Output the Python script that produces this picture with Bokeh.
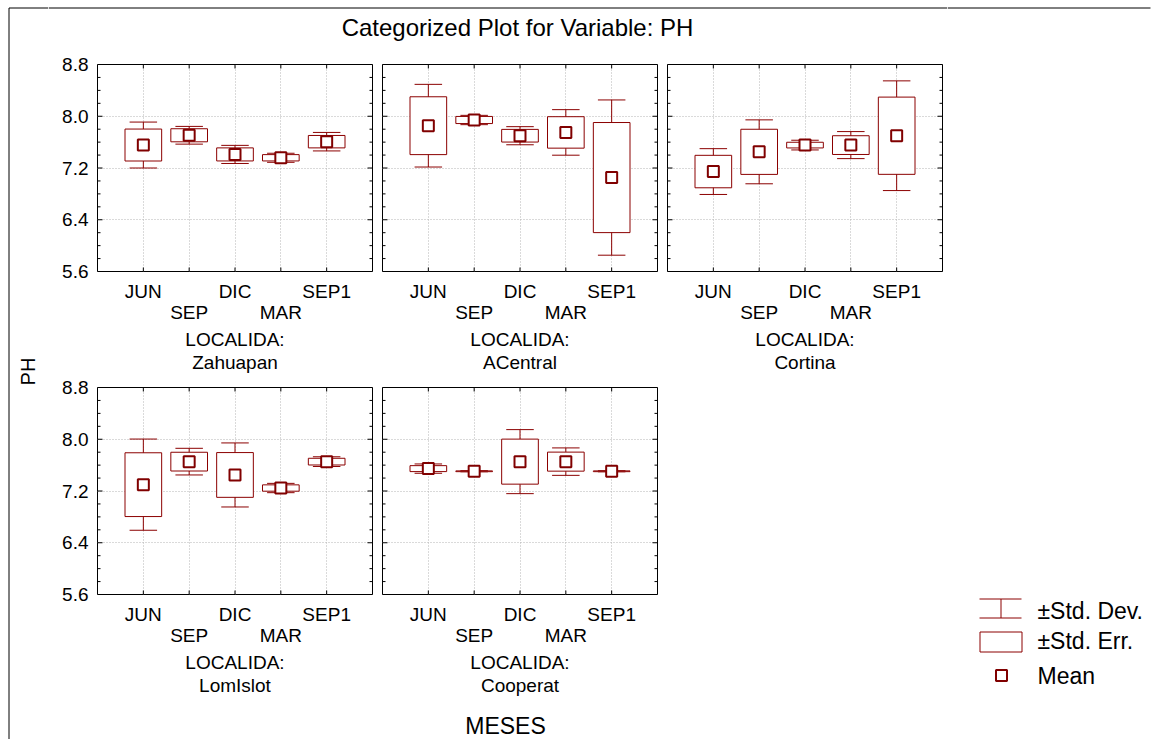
import numpy as np
from bokeh.plotting import figure
from bokeh.models import Range1d, LinearAxis, FixedTicker, Grid, PrintfTickFormatter, ColumnDataSource, Span
from bokeh.layouts import row, column
from bokeh.core.properties import value
from bokeh.embed import file_html
from bokeh.resources import INLINE

# ---------------- data ----------------
months = ["JUN", "SEP", "DIC", "MAR", "SEP1"]
localities = ["Zahuapan", "ACentral", "Cortina", "LomIslot", "Cooperat"]
y_ticks = [5.6, 6.4, 7.2, 8.0, 8.8]

zahuapan_mean = [7.555, 7.706, 7.410, 7.358, 7.607]
zahuapan_se = [0.247, 0.101, 0.101, 0.049, 0.096]
zahuapan_sd = [0.355, 0.137, 0.140, 0.070, 0.143]

acentral_mean = [7.854, 7.942, 7.699, 7.750, 7.052]
acentral_se = [0.447, 0.055, 0.098, 0.243, 0.851]
acentral_sd = [0.639, 0.072, 0.140, 0.352, 1.200]

cortina_mean = [7.145, 7.450, 7.554, 7.554, 7.699]
cortina_se = [0.251, 0.349, 0.044, 0.145, 0.597]
cortina_sd = [0.354, 0.494, 0.075, 0.209, 0.848]

lomislot_mean = [7.298, 7.654, 7.448, 7.246, 7.654]
lomislot_se = [0.493, 0.145, 0.346, 0.049, 0.052]
lomislot_sd = [0.705, 0.206, 0.495, 0.072, 0.075]

cooperat_mean = [7.546, 7.505, 7.654, 7.654, 7.505]
cooperat_se = [0.046, 0.006, 0.348, 0.147, 0.006]
cooperat_sd = [0.072, 0.008, 0.495, 0.212, 0.008]

# ---------------- styling ----------------
FONT = "Liberation Sans"
RED = "#8B0000"
GRID = "#b4b4b4"
LABEL_SIZE = "19px"


def panel(name, mean, se, sd, show_y):
    xs = np.arange(1, len(months) + 1)
    mean = np.array(mean)
    se = np.array(se)
    sd = np.array(sd)
    src = ColumnDataSource(dict(
        x=xs, mean=mean,
        se_lo=mean - se, se_hi=mean + se,
        sd_lo=mean - sd, sd_hi=mean + sd,
        box_l=xs - 0.4, box_r=xs + 0.4,
        cap_l=xs - 0.3, cap_r=xs + 0.3,
    ))
    xr = Range1d(0, len(months) + 1)
    yr = Range1d(y_ticks[0], y_ticks[-1])
    p = figure(frame_width=275, frame_height=207, x_range=xr, y_range=yr,
               x_axis_type=None, y_axis_type=None,
               toolbar_location=None, output_backend="svg",
               min_border_left=49 if show_y else 5, min_border_right=5,
               min_border_top=10, min_border_bottom=106)
    p.outline_line_color = "black"
    p.outline_line_width = 1

    minor = [float(v) for v in np.round(np.arange(y_ticks[0], y_ticks[-1] + 0.01, 0.2), 1)
             if round(float(v), 1) not in y_ticks]

    # grids
    p.add_layout(Grid(dimension=0, ticker=FixedTicker(ticks=list(xs)),
                      grid_line_color=GRID, grid_line_dash="1 2"))
    p.add_layout(Grid(dimension=1, ticker=FixedTicker(ticks=y_ticks[1:-1]),
                      grid_line_color=GRID, grid_line_dash="1 2"))

    # left axis labels
    if show_y:
        ya = LinearAxis(ticker=FixedTicker(ticks=y_ticks),
                        formatter=PrintfTickFormatter(format="%.1f"))
        ya.major_tick_line_color = None
        ya.minor_tick_line_color = None
        ya.major_tick_out = 0
        ya.minor_tick_out = 0
        ya.axis_line_color = None
        ya.major_label_text_font = FONT
        ya.major_label_text_font_size = LABEL_SIZE
        ya.major_label_text_color = "black"
        ya.major_label_standoff = 9
        p.add_layout(ya, "left")

    # bottom axis: staggered month labels (odd positions on a second line)
    ov = {int(x): (months[i] if i % 2 == 0 else "\n" + months[i]) for i, x in enumerate(xs)}
    ba = LinearAxis(ticker=FixedTicker(ticks=list(xs)), major_label_overrides=ov)
    ba.major_tick_line_color = None
    ba.minor_tick_line_color = None
    ba.major_tick_out = 0
    ba.minor_tick_out = 0
    ba.axis_line_color = None
    ba.major_label_text_font = FONT
    ba.major_label_text_font_size = LABEL_SIZE
    ba.major_label_text_color = "black"
    ba.major_label_text_line_height = 1.0
    ba.major_label_standoff = 9
    ba.axis_label = "LOCALIDA:\n" + name
    ba.axis_label_text_font = FONT
    ba.axis_label_text_font_size = LABEL_SIZE
    ba.axis_label_text_font_style = "normal"
    ba.axis_label_text_color = "black"
    ba.axis_label_text_line_height = 1.1
    ba.axis_label_standoff = 3
    p.add_layout(ba, "below")

    # inside tick marks on all four sides
    for xe in (xr.start, xr.end):
        p.scatter(x=[xe] * len(y_ticks), y=y_ticks, marker="dash", size=10, line_color="black")
        p.scatter(x=[xe] * len(minor), y=minor, marker="dash", size=6, line_color="black")
    for ye in (yr.start, yr.end):
        p.scatter(x=list(xs), y=[ye] * len(xs), marker="dash", angle=np.pi / 2, size=8,
                  line_color="black")

    # glyphs
    p.segment(x0="x", y0="sd_lo", x1="x", y1="sd_hi", source=src, line_color=RED, line_width=1)
    p.segment(x0="cap_l", y0="sd_hi", x1="cap_r", y1="sd_hi", source=src, line_color=RED, line_width=1)
    p.segment(x0="cap_l", y0="sd_lo", x1="cap_r", y1="sd_lo", source=src, line_color=RED, line_width=1)
    p.quad(left="box_l", right="box_r", bottom="se_lo", top="se_hi", source=src,
           fill_color="white", line_color=RED, line_width=1)
    p.scatter(x="x", y="mean", source=src, marker="square", size=11,
              fill_color="white", line_color="#800000", line_width=2)
    return p


def blank(w, h):
    f = figure(width=w, height=h, x_range=Range1d(0, w), y_range=Range1d(0, h),
               x_axis_type=None, y_axis_type=None, toolbar_location=None,
               output_backend="svg", min_border=0)
    f.outline_line_color = None
    return f


p1 = panel(localities[0], zahuapan_mean, zahuapan_se, zahuapan_sd, True)
p2 = panel(localities[1], acentral_mean, acentral_se, acentral_sd, False)
p3 = panel(localities[2], cortina_mean, cortina_se, cortina_sd, False)
p4 = panel(localities[3], lomislot_mean, lomislot_se, lomislot_sd, True)
p5 = panel(localities[4], cooperat_mean, cooperat_se, cooperat_sd, False)

H = 739
LEFT_W = 48
MAIN_W = 899
RIGHT_W = 207
TITLE_H = 54
MESES_H = 39

# title (with the top border line)
title_fig = blank(MAIN_W, TITLE_H)
title_fig.add_layout(Span(location=TITLE_H - 7.5, dimension="width", line_color="black", line_width=1))
title_fig.text(x=[469], y=[TITLE_H - 27], text=["Categorized Plot for Variable: PH"],
               text_font=value(FONT), text_font_size="24px", text_color="black",
               text_align="center", text_baseline="middle")

# x title
meses_fig = blank(MAIN_W, MESES_H)
meses_fig.text(x=[457], y=[MESES_H - 25], text=["MESES"], text_font=value(FONT),
               text_font_size="23px", text_color="black",
               text_align="center", text_baseline="middle")

# y title (with left border line)
left_fig = blank(LEFT_W, H)
left_fig.segment(x0=[8.5, 8.5], y0=[0, H - 7.5], x1=[8.5, LEFT_W], y1=[H - 7.5, H - 7.5],
                 line_color="black", line_width=1)
left_fig.text(x=[27], y=[H - 371], text=["PH"], angle=np.pi / 2, text_font=value(FONT),
              text_font_size="20px", text_color="black",
              text_align="center", text_baseline="middle")

# right side: legend (with top border line)
right_fig = blank(RIGHT_W, H)
right_fig.segment(x0=[0], y0=[H - 7.5], x1=[RIGHT_W - 4], y1=[H - 7.5], line_color="black", line_width=1)
right_fig.segment(x0=[32, 32, 53.5], y0=[H - 598.5, H - 617.5, H - 617.5],
                  x1=[74, 74, 53.5], y1=[H - 598.5, H - 617.5, H - 598.5],
                  line_color=RED, line_width=1)
right_fig.quad(left=[32.5], right=[74.5], bottom=[H - 651.5], top=[H - 631.5], fill_color="white",
               line_color=RED, line_width=1)
right_fig.scatter(x=[54], y=[H - 675], marker="square", size=11, fill_color="white",
                  line_color="#800000", line_width=2)
right_fig.text(x=[90, 90, 90], y=[H - 610, H - 640, H - 675],
               text=["\u00b1Std. Dev.", "\u00b1Std. Err.", "Mean"],
               text_font=value(FONT), text_font_size="23px", text_color="black",
               text_align="left", text_baseline="middle")

main = column(title_fig, row(p1, p2, p3), row(p4, p5), meses_fig)
layout = row(left_fig, main, right_fig)

open("out.html", "w").write(file_html(layout, INLINE))
